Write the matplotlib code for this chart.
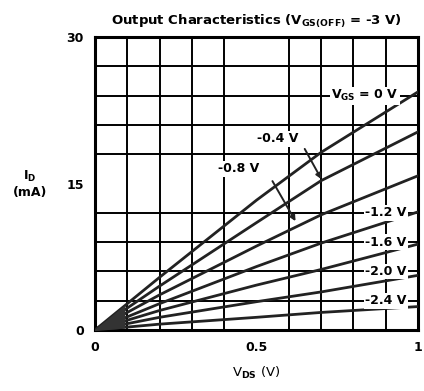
import numpy as np
import matplotlib.pyplot as plt

plt.rcParams['font.family'] = ['DejaVu Sans']
plt.rcParams['font.weight'] = 'bold'
plt.rcParams['mathtext.fontset'] = 'custom'
plt.rcParams['mathtext.bf'] = 'DejaVu Sans:bold'
plt.rcParams['mathtext.rm'] = 'DejaVu Sans:bold'
plt.rcParams['mathtext.default'] = 'bf'

# drain-source voltage (V) where the curves were read
vds = [0, 0.2, 0.5, 0.7, 1.0]
# drain current (mA) for each gate voltage
id_0v = [0, 5.4, 13.3, 18.2, 24.4]
id_04 = [0, 4.5, 11.0, 15.3, 20.3]
id_08 = [0, 3.6, 8.6, 11.8, 15.8]
id_12 = [0, 2.7, 6.5, 8.9, 12.1]
id_16 = [0, 2.0, 4.6, 6.2, 8.8]
id_20 = [0, 1.3, 2.9, 3.9, 5.6]
id_24 = [0, 0.6, 1.3, 1.8, 2.4]
curves = [id_0v, id_04, id_08, id_12, id_16, id_20, id_24]

# labels sitting on the grid at the right side
right_labels = ['-1.2 V', '-1.6 V', '-2.0 V', '-2.4 V']
right_label_i = [12, 9, 6, 3]

fig = plt.figure(figsize=(4.24, 3.91), dpi=100)
ax = fig.add_axes([0.224, 0.156, 0.762, 0.749])

ax.set_xlim(0, 1)
ax.set_ylim(0, 30)
ax.set_xticks(np.arange(0, 1.01, 0.1), minor=True)
ax.set_yticks(np.arange(0, 30.1, 3), minor=True)
ax.set_xticks([0, 0.5, 1])
ax.set_xticklabels(['0', '0.5', '1'])
ax.set_yticks([0, 15, 30])
ax.grid(True, which='minor', color='black', lw=1.4)
ax.tick_params(which='both', length=0, labelsize=9, pad=8)
for s in ax.spines.values():
    s.set_linewidth(2.2)

for c in curves:
    ax.plot(vds, c, color='#222222', lw=2.0, zorder=3)

# dark wedge where the curves meet at the origin
xs = np.linspace(0, 0.09, 20)
ax.fill_between(xs, np.interp(xs, vds, id_24), np.interp(xs, vds, id_0v),
                color='#333333', zorder=3)

box = dict(facecolor='white', edgecolor='none', pad=1.0)
ax.text(0.835, 24, r'V$_{GS}$ = 0 V', ha='center', va='center', fontsize=9,
        bbox=box, zorder=4)
for lab, yv in zip(right_labels, right_label_i):
    ax.text(0.9, yv, lab, ha='center', va='center', fontsize=9, bbox=box, zorder=4)

ax.text(0.565, 19.6, '-0.4 V', ha='center', va='center', fontsize=9, bbox=box, zorder=4)
ax.text(0.445, 16.5, '-0.8 V', ha='center', va='center', fontsize=9, bbox=box, zorder=4)
ax.annotate('', xy=(0.705, 15.2), xytext=(0.645, 18.8),
            arrowprops=dict(arrowstyle='-|>', color='#222222', lw=1.4, mutation_scale=8), zorder=4)
ax.annotate('', xy=(0.625, 10.9), xytext=(0.545, 15.5),
            arrowprops=dict(arrowstyle='-|>', color='#222222', lw=1.4, mutation_scale=8), zorder=4)

ax.set_title(r'Output Characteristics (V$_{GS(OFF)}$ = -3 V)', fontsize=9.5,
             fontweight='bold', pad=9)
ax.set_xlabel(r'V$_{DS}$ (V)', fontsize=9.5, labelpad=8)
fig.text(0.07, 0.53, 'I$_D$\n(mA)', ha='center', va='center', fontsize=9)

fig.savefig('out.png', dpi=100)
